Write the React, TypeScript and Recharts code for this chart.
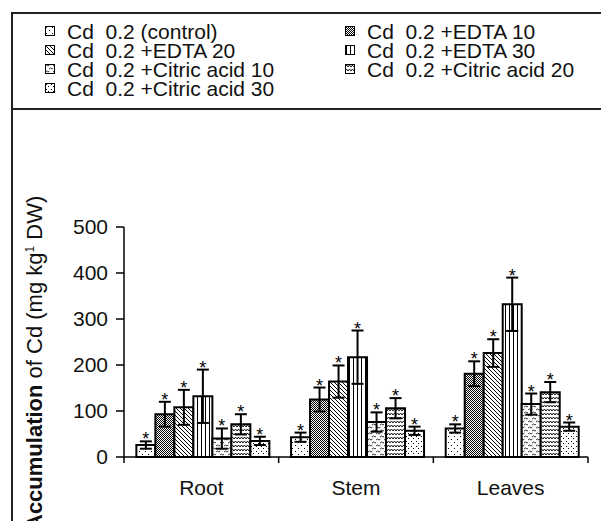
import { BarChart, Bar, XAxis, YAxis, ErrorBar, LabelList } from 'recharts';

// measured values (mg kg-1 DW) and their error bars, by organ
const categories = ['Root', 'Stem', 'Leaves'];
const control = [26, 43, 62];
const controlErr = [8, 10, 9];
const edta10 = [93, 125, 181];
const edta10Err = [27, 26, 27];
const edta20 = [108, 164, 226];
const edta20Err = [38, 35, 30];
const edta30 = [132, 217, 332];
const edta30Err = [58, 58, 58];
const citric10 = [40, 76, 115];
const citric10Err = [22, 21, 23];
const citric20 = [71, 106, 141];
const citric20Err = [22, 22, 22];
const citric30 = [35, 57, 66];
const citric30Err = [9, 9, 9];
const yTicks = [0, 100, 200, 300, 400, 500];

const series = [
    { key: 'control', name: 'Cd  0.2 (control)', values: control, errors: controlErr, pattern: 'pat-control' },
    { key: 'edta10', name: 'Cd  0.2 +EDTA 10', values: edta10, errors: edta10Err, pattern: 'pat-edta10' },
    { key: 'edta20', name: 'Cd  0.2 +EDTA 20', values: edta20, errors: edta20Err, pattern: 'pat-edta20' },
    { key: 'edta30', name: 'Cd  0.2 +EDTA 30', values: edta30, errors: edta30Err, pattern: 'pat-edta30' },
    { key: 'citric10', name: 'Cd  0.2 +Citric acid 10', values: citric10, errors: citric10Err, pattern: 'pat-citric10' },
    { key: 'citric20', name: 'Cd  0.2 +Citric acid 20', values: citric20, errors: citric20Err, pattern: 'pat-citric20' },
    { key: 'citric30', name: 'Cd  0.2 +Citric acid 30', values: citric30, errors: citric30Err, pattern: 'pat-citric30' },
];

const data = categories.map((category, i) => {
    const row: any = { category };
    series.forEach((s) => {
        row[s.key] = s.values[i];
        row[s.key + 'Err'] = s.errors[i];
    });
    return row;
});

const FONT = '"Liberation Sans", Arial, sans-serif';
const W = 601;
const H = 521;
const margin = { top: 227, right: 13, bottom: 34, left: 0 };
const Y_AXIS_W = 124;
const bandHalf = (W - margin.right - Y_AXIS_W) / categories.length / 2;

// asterisk sits just above the upper error cap
const starLabel = (errKey: string) => (props: any) => {
    const vb = props.viewBox ?? props;
    const x = vb.x ?? props.x;
    const y = vb.y ?? props.y;
    const width = vb.width ?? props.width;
    const height = vb.height ?? props.height;
    const value = Number(props.value);
    const err = data[props.index]?.[errKey] ?? 0;
    const capY = value ? y - (height / value) * err : y;
    return (
        <text x={x + width / 2} y={capY + 4} textAnchor="middle" fontSize={18} fontFamily={FONT} fill="#000">
            *
        </text>
    );
};

const CategoryTick = (props: any) => {
    const { x, y, payload, index } = props;
    const half = payload?.offset || bandHalf;
    return (
        <g>
            {index === 0 && <line x1={x - half} y1={y} x2={x - half} y2={y + 6} stroke="#000" strokeWidth={1.5} />}
            <line x1={x + half} y1={y} x2={x + half} y2={y + 6} stroke="#000" strokeWidth={1.5} />
            <text x={x} y={y + 38} textAnchor="middle" fontSize={21} fontFamily={FONT} fill="#111">
                {payload.value}
            </text>
        </g>
    );
};

const YLabel = () => (
    <text transform="translate(42, 530) rotate(-90)" fontSize={22} fontFamily={FONT} fill="#111">
        <tspan fontWeight="bold">Accumulation</tspan>
        <tspan> of Cd (mg kg</tspan>
        <tspan fontSize={12} dy={-8}>1</tspan>
        <tspan dy={8}> DW)</tspan>
    </text>
);

const Patterns = () => (
    <defs>
        <pattern id="pat-control" width="6" height="6" patternUnits="userSpaceOnUse">
            <rect width="6" height="6" fill="#fff" />
            <rect x="1" y="1" width="1" height="1" fill="#000" />
            <rect x="4" y="4" width="1" height="1" fill="#000" />
        </pattern>
        <pattern id="pat-edta10" width="2" height="2" patternUnits="userSpaceOnUse">
            <rect width="2" height="2" fill="#fff" />
            <rect x="0" y="0" width="1" height="1" fill="#000" />
            <rect x="1" y="1" width="1" height="1" fill="#000" />
        </pattern>
        <pattern id="pat-edta20" width="4" height="4" patternUnits="userSpaceOnUse">
            <rect width="4" height="4" fill="#fff" />
            <path d="M0,0 L4,4 M-1,3 L1,5 M3,-1 L5,1" stroke="#000" strokeWidth="1" />
        </pattern>
        <pattern id="pat-edta30" width="4" height="4" patternUnits="userSpaceOnUse">
            <rect width="4" height="4" fill="#fff" />
            <rect x="1" y="0" width="1" height="4" fill="#000" />
        </pattern>
        <pattern id="pat-citric10" width="8" height="6" patternUnits="userSpaceOnUse">
            <rect width="8" height="6" fill="#fff" />
            <path d="M0,2 L1.5,1 L3,2 L4.5,1 M4,5 L5.5,4 L7,5 L8.5,4" stroke="#000" strokeWidth="0.8" fill="none" />
        </pattern>
        <pattern id="pat-citric20" width="6" height="4" patternUnits="userSpaceOnUse">
            <rect width="6" height="4" fill="#fff" />
            <path d="M0,3 L1.5,1 L3,3 L4.5,1 L6,3" stroke="#000" strokeWidth="0.9" fill="none" />
        </pattern>
        <pattern id="pat-citric30" width="5" height="5" patternUnits="userSpaceOnUse">
            <rect width="5" height="5" fill="#fff" />
            <rect x="1" y="1" width="1" height="1" fill="#000" />
            <rect x="3" y="3" width="1" height="1" fill="#000" />
        </pattern>
    </defs>
);

const LegendBox = () => (
    <div style={{ position: 'absolute', left: 0, top: 0, width: W, height: 110, fontFamily: FONT }}>
        {series.map((s, i) => {
            const col = i % 2;
            const row = Math.floor(i / 2);
            const left = col === 0 ? 45 : 345;
            const cy = 31 + row * 19;
            return (
                <div key={s.key} style={{ position: 'absolute', left, top: cy - 10, height: 20, display: 'flex', alignItems: 'center' }}>
                    <svg width={10} height={10} style={{ display: 'block' }}>
                        <rect x={0.5} y={0.5} width={9} height={9} fill={`url(#${s.pattern})`} stroke="#000" strokeWidth={1} />
                    </svg>
                    <span style={{ marginLeft: 12, fontSize: 21, lineHeight: '19px', whiteSpace: 'pre', color: '#111' }}>{s.name}</span>
                </div>
            );
        })}
    </div>
);

export default function App() {
    return (
        <div style={{ position: 'absolute', left: 0, top: 0, width: W, height: H, background: '#fff', overflow: 'hidden' }}>
            <BarChart width={W} height={H} data={data} margin={margin} barCategoryGap="8%" barGap={0}>
                <Patterns />
                <XAxis
                    dataKey="category"
                    height={30}
                    axisLine={{ stroke: '#000', strokeWidth: 1.5 }}
                    tickLine={false}
                    tickSize={0}
                    tickMargin={0}
                    tick={<CategoryTick />}
                    interval={0}
                />
                <YAxis
                    width={Y_AXIS_W}
                    domain={[0, 500]}
                    ticks={yTicks}
                    interval={0}
                    axisLine={{ stroke: '#000', strokeWidth: 1.5 }}
                    tickLine={{ stroke: '#000', strokeWidth: 1.5 }}
                    tickSize={8}
                    tickMargin={8}
                    tick={{ fontSize: 21, fill: '#111', fontFamily: FONT }}
                    label={{ content: () => <YLabel /> }}
                />
                {series.map((s) => (
                    <Bar
                        key={s.key}
                        dataKey={s.key}
                        name={s.name}
                        fill={`url(#${s.pattern})`}
                        stroke="#000"
                        strokeWidth={2}
                        isAnimationActive={false}
                    >
                        <ErrorBar dataKey={s.key + 'Err'} direction="y" width={6} stroke="#000" strokeWidth={2} />
                        <LabelList dataKey={s.key} content={starLabel(s.key + 'Err')} />
                    </Bar>
                ))}
            </BarChart>
            <LegendBox />
            <div style={{ position: 'absolute', left: 11, top: 12, width: 2, height: H - 12, background: '#222' }} />
            <div style={{ position: 'absolute', left: 11, top: 12, width: W - 11, height: 2, background: '#222' }} />
            <div style={{ position: 'absolute', left: 11, top: 108, width: W - 11, height: 2, background: '#222' }} />
        </div>
    );
}
